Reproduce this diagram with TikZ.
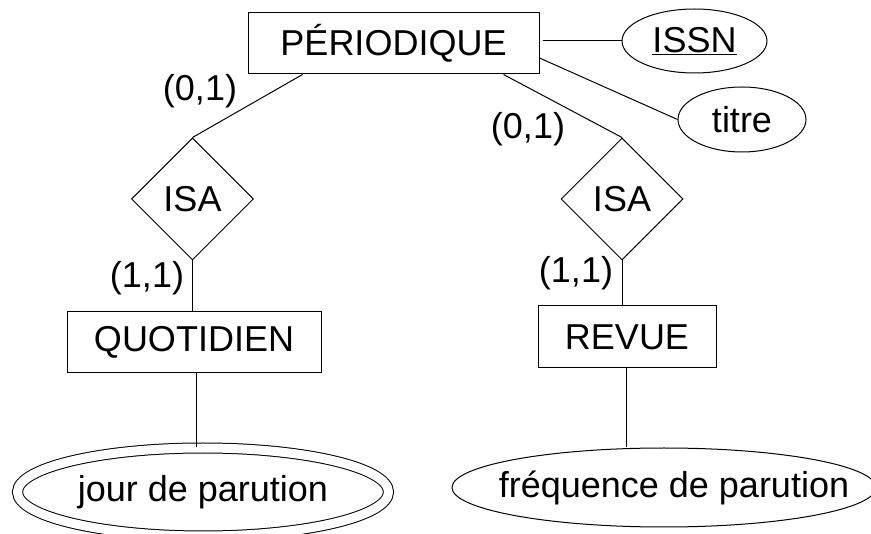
\documentclass[tikz,border=0pt]{standalone}
\usepackage{fontspec}
\setmainfont{Liberation Sans}
\usetikzlibrary{shapes.geometric}

\tikzset{
  entity/.style={draw, rectangle, inner sep=0pt},
  attrib/.style={draw, ellipse, inner sep=0pt},
  isa/.style={draw, diamond, aspect=1, inner sep=0pt,
    minimum width=122pt, minimum height=122pt},
  card/.style={inner sep=0pt}
}

\begin{document}
\begin{tikzpicture}[x=1pt, y=-1pt, line width=1pt,
    font=\fontsize{36}{43}\selectfont]
    \useasboundingbox (0, 0) rectangle (871, 534);
    \clip (0, 0) rectangle (871, 534);

    \node[entity, minimum width=291pt, minimum height=61pt] (peri) at (393.5, 43.5) {PÉRIODIQUE};
    \node[attrib, minimum width=145pt, minimum height=64pt] (issn) at (694.5, 41) {\underline{ISSN}};
    \node[attrib, minimum width=128pt, minimum height=65pt] (titre) at (742, 119.5) {titre};

    \node[isa] (isaL) at (192.5, 199) {ISA};
    \node[isa] (isaR) at (622, 199) {ISA};

    \node[entity, minimum width=254pt, minimum height=61pt] (quot) at (194, 342.5) {QUOTIDIEN};
    \node[entity, minimum width=178pt, minimum height=62pt] (revue) at (627, 337) {REVUE};

    \node[attrib, double, double distance=9pt, minimum width=371pt,
      minimum height=88pt] (jour) at (203, 492) {jour de parution};
    \node[attrib, minimum width=424pt, minimum height=79pt] (freq) at (664, 487.5)
      {\makebox[0pt]{\hspace{20pt}fréquence de parution}};

    \node[card] (cardL1) at (200, 91) {(0,1)};
    \node[card] (cardR1) at (528, 129) {(0,1)};
    \node[card] (cardL2) at (147, 278) {(1,1)};
    \node[card] (cardR2) at (576, 273) {(1,1)};

    \draw ([xshift=3pt]peri.east |- issn.west) -- (issn.west);
    \draw ([yshift=-14.5pt]peri.east) -- (titre.west);
    \draw ([xshift=-91pt]peri.south) -- (isaL.north);
    \draw ([xshift=110pt]peri.south) -- (isaR.north);
    \draw (isaL.south) -- (isaL.south |- quot.north);
    \draw (isaR.south) -- (isaR.south |- revue.north);
    \draw ([xshift=2pt]quot.south) -- ([xshift=2pt]quot.south |- jour.north);
    \draw ([xshift=-1pt]revue.south) -- ([xshift=-1pt]revue.south |- freq.north);
  \end{tikzpicture}
\end{document}
